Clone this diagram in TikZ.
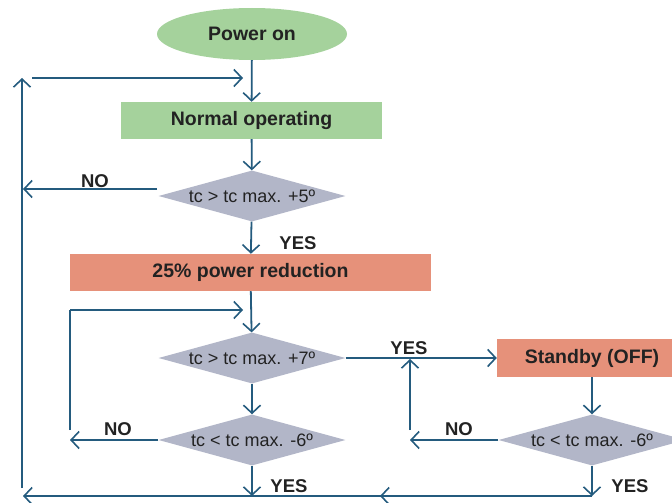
\documentclass[tikz,border=0pt]{standalone}
\usepackage{fontspec}
\setmainfont{Liberation Sans}
\usetikzlibrary{shapes.geometric,arrows.meta}
\definecolor{lnc}{HTML}{245B7E}
\definecolor{grn}{HTML}{A5D29C}
\definecolor{sal}{HTML}{E6917A}
\definecolor{dia}{HTML}{B2B6C8}
\definecolor{txt}{HTML}{222222}
\tikzset{
  conn/.style={draw=lnc, line width=1.8pt, -{Straight Barb[length=8pt,width=17pt,line width=1.6pt]}},
  plain/.style={draw=lnc, line width=1.8pt},
  title/.style={font=\fontsize{19.5}{22}\selectfont\bfseries, text=txt},
  lab/.style={font=\fontsize{18.5}{21}\selectfont\bfseries, text=txt, inner sep=0pt},
  boxg/.style={rectangle, fill=grn, title, minimum height=37pt, inner sep=0pt},
  boxs/.style={rectangle, fill=sal, title, minimum height=37pt, inner sep=0pt},
  dec/.style={diamond, fill=dia, inner sep=0pt, minimum width=187pt, minimum height=51pt, aspect=3.67, font=\fontsize{18}{21}\selectfont, text=txt},
}
\begin{document}
\begin{tikzpicture}[x=1pt,y=-1pt]
\useasboundingbox (0,0) rectangle (672,503);
\node[ellipse, fill=grn, title, minimum width=190pt, minimum height=52pt, inner sep=0pt] (pw) at (252,34) {Power on};
\node[boxg, minimum width=261pt] (no) at (251.5,120.5) {Normal operating};
\node[dec] (d1) at (252,196) {\makebox[0pt]{tc > tc max. +5º}};
\node[boxs, minimum width=361pt] (pr) at (250.5,272.5) {25\% power reduction};
\node[dec] (d2) at (252,358) {\makebox[0pt]{tc > tc max. +7º}};
\node[dec] (d3) at (252,440) {\makebox[0pt]{tc < tc max. -6º}};
\node[boxs, minimum width=190pt, minimum height=38pt] (sb) at (592,358) {Standby (OFF)};
\node[dec] (d4) at (592,440) {\makebox[0pt]{tc < tc max. -6º}};

% coordinates
\coordinate (lt) at (22,78);
\coordinate (lb) at (22,488);
\coordinate (ls) at (32,78);
\coordinate (le) at (243,78);
\coordinate (n1s) at (157,189);
\coordinate (n1e) at (23,189);
\coordinate (l2t) at (70,310);
\coordinate (l2b) at (70,430);
\coordinate (l2e) at (243,310);
\coordinate (n3e) at (70,440);
\coordinate (r2b) at (410,430);
\coordinate (r2t) at (410,359);
\coordinate (n4e) at (410,440);
\coordinate (b3) at (252,496);
\coordinate (b4) at (592,496);
\coordinate (bm) at (380,496);
\coordinate (bl) at (23,496);

% main flow
\draw[conn] (pw) -- (no);
\draw[conn] (no) -- (d1);
\draw[conn] (d1) -- (pr);
\draw[conn] (pr) -- (d2);
\draw[conn] (d2) -- (d3);
\draw[conn] (d2) -- (sb);
\draw[conn] (sb) -- (d4);
\draw[conn] (d3) -- (b3);
\draw[conn] (d4) -- (b4);

% outer loop
\draw[conn] (lb) -- (lt);
\draw[conn] (ls) -- (le);
\draw[conn] (n1s) -- (n1e);
\draw[plain] (b4) -- (bm);
\draw[conn] (b4) -- (bm);
\draw[conn] (bm) -- (bl);

% inner loop
\draw[conn] (d3.west) -- (n3e);
\draw[plain] (l2b) -- (l2t);
\draw[conn] (l2t) -- (l2e);

% standby loop
\draw[conn] (d4.west) -- (n4e);
\draw[conn] (r2b) -- (r2t);

% labels
\node[lab] (lno1) at (95,181) {NO};
\node[lab] (lyes1) at (298,243) {YES};
\node[lab] (lyes2) at (409,348) {YES};
\node[lab] (lno3) at (118,429) {NO};
\node[lab] (lno4) at (459,429) {NO};
\node[lab] (lyes3) at (289,486) {YES};
\node[lab] (lyes4) at (630,486) {YES};
\end{tikzpicture}
\end{document}
